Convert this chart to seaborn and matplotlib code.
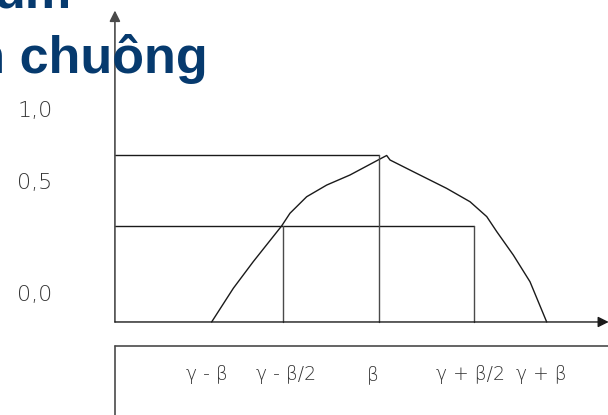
import matplotlib
matplotlib.use("Agg")
import matplotlib.pyplot as plt
import seaborn as sns
import pandas as pd

# Bell-shaped membership function (x in units of beta around gamma, mu in [0, 1])
curve_x = [-1.002, -0.872, -0.753, -0.583, -0.533, -0.433, -0.313, -0.174,
           0.006, 0.046, 0.066, 0.205, 0.405, 0.545, 0.645, 0.705, 0.804,
           0.904, 1.004]
curve_mu = [0.0, 0.202, 0.361, 0.575, 0.651, 0.750, 0.820, 0.880,
            0.976, 0.997, 0.970, 0.900, 0.800, 0.720, 0.631, 0.541, 0.401,
            0.241, 0.0]

# Guide levels and knots
knot_x = [-1.0, -0.575, 0.0, 0.569, 1.0]
knot_label_x = [-1.033, -0.557, -0.036, 0.545, 0.970]
knot_labels = ["γ - β", "γ - β/2", "β", "γ + β/2", "γ + β"]
guide_top = 1.0
guide_mid = 0.575

y_labels = ["1,0", "0,5", "0,0"]
y_label_pos = [1.263, 0.832, 0.162]

title_lines = ["um", "hình chuông"]

sns.set_style("white")
plt.rcParams["font.family"] = ["Liberation Sans", "DejaVu Sans"]

fig = plt.figure(figsize=(6.08, 4.15), dpi=100)
ax = fig.add_axes([0, 0, 1, 1])

line_c = "#1a1a1a"
axis_c = "#4a4a4a"
lw = 1.0
x_axis = -1.581

df = pd.DataFrame({"x": curve_x, "mu": curve_mu})
sns.lineplot(data=df, x="x", y="mu", sort=False, color=line_c, lw=lw, ax=ax)
ax.set_xlim(-2.269, 1.371)
ax.set_ylim(-0.557, 1.928)
ax.axis("off")

# axes with arrowheads
ax.annotate("", xy=(x_axis, 1.865), xytext=(x_axis, 0.0),
            arrowprops=dict(arrowstyle="-|>", color=axis_c, lw=1.2,
                            mutation_scale=16, shrinkA=0, shrinkB=0),
            annotation_clip=False)
ax.annotate("", xy=(1.375, 0.0), xytext=(x_axis, 0.0),
            arrowprops=dict(arrowstyle="-|>", color=line_c, lw=1.0,
                            mutation_scale=16, shrinkA=0, shrinkB=0),
            annotation_clip=False)

# guide lines
ax.plot([x_axis, knot_x[2]], [guide_top, guide_top], color=line_c, lw=lw)
ax.plot([x_axis, knot_x[3]], [guide_mid, guide_mid], color=line_c, lw=lw)
ax.plot([knot_x[1], knot_x[1]], [0, guide_mid], color=axis_c, lw=lw)
ax.plot([knot_x[2], knot_x[2]], [0, guide_top], color=axis_c, lw=lw)
ax.plot([knot_x[3], knot_x[3]], [0, guide_mid], color=axis_c, lw=lw)

# label box below the axis
box_top = -0.144
ax.plot([x_axis, 1.5], [box_top, box_top], color=axis_c, lw=1.2)
ax.plot([x_axis, x_axis], [box_top, -0.7], color=axis_c, lw=1.2)

for xv, lab in zip(knot_label_x, knot_labels):
    ax.text(xv, -0.317, lab, ha="center", va="center", fontsize=13.5,
            family=["DejaVu Sans"], fontweight="light", color="#333333")

for yv, lab in zip(y_label_pos, y_labels):
    ax.text(-2.06, yv, lab, ha="center", va="center", fontsize=16,
            family=["DejaVu Sans"], fontweight="light", color="#333333")

# title fragments
ax.text(-1.838, 1.880, title_lines[0], ha="right", va="baseline",
        fontsize=37.5, fontweight="bold", color="#063a6e")
ax.text(-1.024, 1.491, title_lines[1], ha="right", va="baseline",
        fontsize=37.5, fontweight="bold", color="#063a6e")

fig.savefig("out.png", dpi=100)
